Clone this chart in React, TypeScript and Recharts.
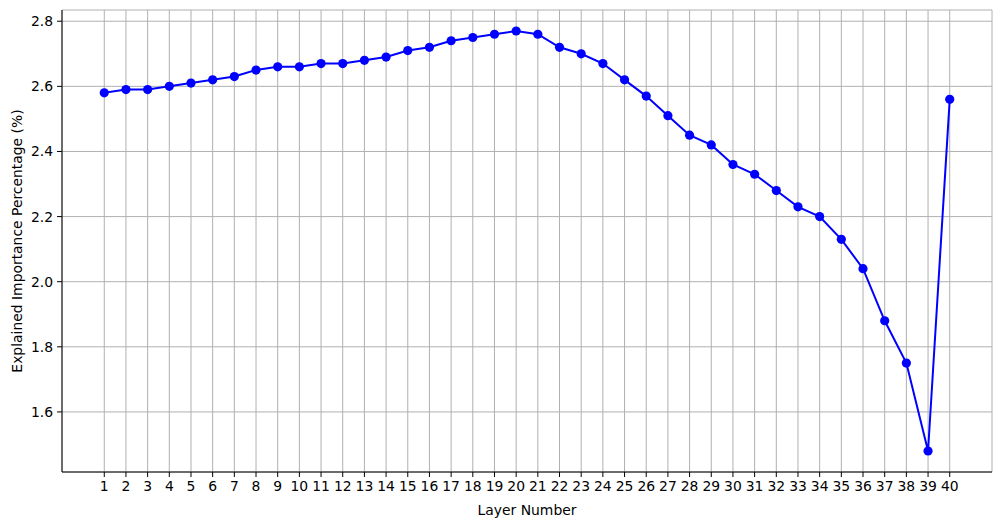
import React from 'react';
import { LineChart, Line, XAxis, YAxis, CartesianGrid } from 'recharts';

// layer index and explained importance (%) per layer
const layers = [
  1, 2, 3, 4, 5, 6, 7, 8, 9, 10, 11, 12, 13, 14, 15, 16, 17, 18, 19, 20,
  21, 22, 23, 24, 25, 26, 27, 28, 29, 30, 31, 32, 33, 34, 35, 36, 37, 38, 39, 40,
];
const importance = [
  2.58, 2.59, 2.59, 2.60, 2.61, 2.62, 2.63, 2.65, 2.66, 2.66,
  2.67, 2.67, 2.68, 2.69, 2.71, 2.72, 2.74, 2.75, 2.76, 2.77,
  2.76, 2.72, 2.70, 2.67, 2.62, 2.57, 2.51, 2.45, 2.42, 2.36,
  2.33, 2.28, 2.23, 2.20, 2.13, 2.04, 1.88, 1.75, 1.48, 2.56,
];
const yTicks = [1.6, 1.8, 2.0, 2.2, 2.4, 2.6, 2.8];

const data = layers.map((layer, i) => ({ layer, value: importance[i] }));

const FONT = 'DejaVu Sans, sans-serif';
const tickStyle = { fill: '#000', fontSize: 13.9, fontFamily: FONT };

export default function App() {
  return (
    <div style={{ position: 'absolute', left: 0, top: 0, width: 1001, height: 525, background: '#fff' }}>
      <LineChart width={1001} height={525} data={data} margin={{ top: 10, right: 9, bottom: 0, left: 0 }}>
        <CartesianGrid stroke="#b0b0b0" strokeWidth={1} />
        <XAxis
          dataKey="layer"
          type="number"
          domain={[-0.95, 41.95]}
          ticks={layers}
          interval={0}
          allowDataOverflow
          height={53}
          stroke="#000"
          tick={tickStyle}
          tickSize={5}
          tickMargin={4}
          label={{ value: 'Layer Number', position: 'insideBottom', offset: 10, style: { fill: '#000', fontSize: 13.9, fontFamily: FONT } }}
        />
        <XAxis xAxisId="top" orientation="top" type="number" dataKey="layer" domain={[-0.95, 41.95]} height={0} tick={false} tickLine={false} stroke="#000" />
        <YAxis
          type="number"
          domain={[1.4155, 2.8345]}
          ticks={yTicks}
          allowDataOverflow
          width={62}
          stroke="#000"
          tick={tickStyle}
          tickSize={5}
          tickMargin={4}
          tickFormatter={(v: number) => v.toFixed(1)}
          label={{ value: 'Explained Importance Percentage (%)', angle: -90, position: 'insideLeft', offset: 17, style: { textAnchor: 'middle', fill: '#000', fontSize: 13.9, fontFamily: FONT } }}
        />
        <YAxis yAxisId="right" orientation="right" width={0} tick={false} tickLine={false} stroke="#000" />
        <Line
          dataKey="value"
          stroke="#0000ff"
          strokeWidth={2}
          dot={{ r: 4.6, fill: '#0000ff', stroke: '#0000ff', strokeWidth: 0 }}
          activeDot={false}
          isAnimationActive={false}
        />
      </LineChart>
    </div>
  );
}
